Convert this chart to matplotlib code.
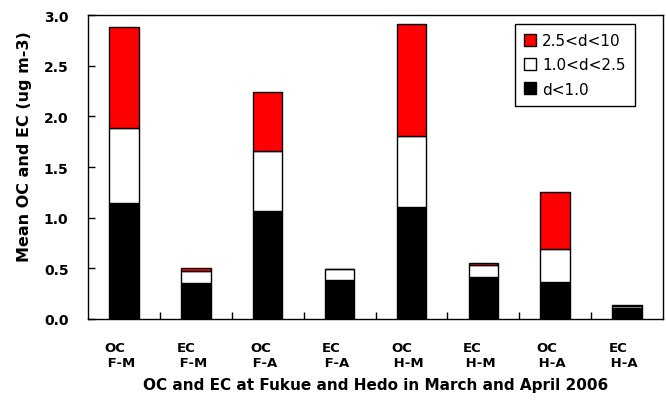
import matplotlib
matplotlib.use("Agg")
import matplotlib.pyplot as plt
import matplotlib.transforms as mtransforms
from matplotlib.patches import Patch
import numpy as np

categories = ["OC\n\u2009F-M", "EC\n\u2009F-M", "OC\n\u2009F-A", "EC\n\u2009F-A",
              "OC\n\u2009H-M", "EC\n\u2009H-M", "OC\n\u2009H-A", "EC\n\u2009H-A"]
fine = [1.14, 0.355, 1.07, 0.385, 1.11, 0.41, 0.37, 0.105]      # d<1.0
mid = [0.74, 0.115, 0.59, 0.105, 0.70, 0.125, 0.32, 0.02]       # 1.0<d<2.5
coarse = [1.00, 0.03, 0.585, 0.0, 1.105, 0.017, 0.56, 0.015]    # 2.5<d<10
series_labels = ["d<1.0", "1.0<d<2.5", "2.5<d<10"]
y_ticks = [0.0, 0.5, 1.0, 1.5, 2.0, 2.5, 3.0]

plt.rcParams['font.family'] = ['DejaVu Sans']

fig = plt.figure(figsize=(6.66, 4.02), dpi=100)
ax = fig.add_axes([88/666, 82/402, 575/666, 304/402])

x = np.arange(len(categories))
w = 0.41
ek = dict(edgecolor='black', linewidth=1.0)
fine_a = np.array(fine); mid_a = np.array(mid); coarse_a = np.array(coarse)
ax.bar(x, fine_a, w, color='black', **ek)
ax.bar(x, mid_a, w, bottom=fine_a, color='white', **ek)
ax.bar(x, coarse_a, w, bottom=fine_a + mid_a, color='#ff0000', **ek)

ax.set_xlim(-0.5, len(categories) - 0.5)
ax.set_ylim(0, 3.0)
ax.set_yticks(y_ticks)
ax.set_yticklabels([f"{v:.1f}" for v in y_ticks], fontweight='bold', fontsize=10)
ax.tick_params(axis='y', direction='in', length=5, width=1, pad=14, right=False)

ax.set_xticks(x)
ax.set_xticklabels(categories, fontweight='bold', fontsize=9.5, multialignment='left',
                   linespacing=1.15)
ax.set_xticks(np.arange(0.5, len(categories) - 0.5, 1.0), minor=True)
ax.tick_params(axis='x', which='major', length=0, pad=16)
ax.tick_params(axis='x', which='minor', direction='in', length=5, width=1)
offset = mtransforms.ScaledTranslation(-4/100, 0, fig.dpi_scale_trans)
for lab in ax.get_xticklabels():
    lab.set_transform(lab.get_transform() + offset)

for s in ax.spines.values():
    s.set_linewidth(1.0)
    s.set_color('black')

ax.set_ylabel("Mean OC and EC (ug m-3)", fontweight='bold', fontsize=11.5)
ax.yaxis.set_label_coords(-0.097, 0.57)
ax.set_xlabel("OC and EC at Fukue and Hedo in March and April 2006",
              fontweight='bold', fontsize=11, labelpad=6)

handles = [Patch(facecolor='#ff0000', edgecolor='black', linewidth=1.0),
           Patch(facecolor='white', edgecolor='black', linewidth=1.0),
           Patch(facecolor='black', edgecolor='black', linewidth=1.0)]
leg = ax.legend(handles, [series_labels[2], series_labels[1], series_labels[0]],
                loc='upper right', bbox_to_anchor=(0.951, 0.970), borderaxespad=0,
                fancybox=False, edgecolor='black', framealpha=1, fontsize=11,
                handlelength=0.8, handleheight=0.8, handletextpad=0.4,
                labelspacing=0.6, borderpad=0.6)
leg.get_frame().set_linewidth(1.0)

fig.savefig("out.png", dpi=100)
